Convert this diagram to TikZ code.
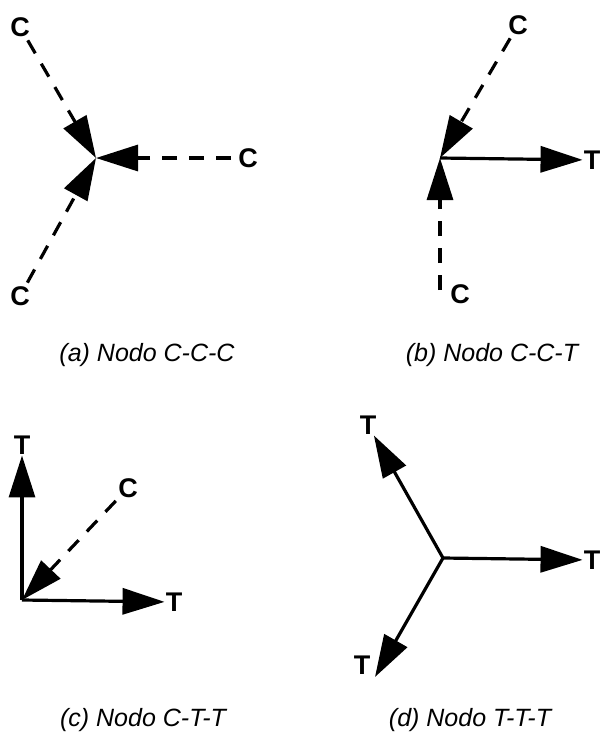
\documentclass[tikz,border=0pt]{standalone}
\usepackage{fontspec}
\setmainfont{Liberation Sans}
\usetikzlibrary{arrows.meta}
\begin{document}
\begin{tikzpicture}[x=1pt,y=-1pt,
  lbl/.style={font=\fontsize{27}{29}\selectfont\bfseries, inner sep=1pt},
  captxt/.style={font=\fontsize{25}{28}\selectfont\itshape, inner sep=0pt},
  bigtip/.style={-{Triangle[length=42pt 0 0,width=26pt 0 0]}},
  comp/.style={bigtip, line width=3.2pt, dash pattern=on 15pt off 12pt},
  tens/.style={bigtip, line width=3.2pt}]
\useasboundingbox (0,0) rectangle (600,740);
% (a)
\coordinate (ac) at (96,158);
\node[lbl] (a1) at (20,27) {C};
\node[lbl] (a2) at (248,158) {C};
\node[lbl] (a3) at (20,296) {C};
\draw[comp, shorten <=3pt] (a1) -- (ac);
\draw[comp, shorten <=6pt] (a2) -- (ac);
\draw[comp, shorten <=3pt] (a3) -- (ac);
\node[captxt] (acap) at (147,355) {(a) Nodo C-C-C};
% (b)
\coordinate (bc) at (440,158);
\node[lbl] (b1) at (518,25) {C};
\node[lbl] (b2) at (592,160) {T};
\coordinate (b3e) at (440,290);
\node[lbl] (b3) at (460,294) {C};
\draw[comp, shorten <=3pt] (b1) -- (bc);
\draw[tens] (bc) -- (b2);
\draw[comp] (b3e) -- (bc);
\node[captxt] (bcap) at (492,355) {(b) Nodo C-C-T};
% (c)
\coordinate (cc) at (22,600);
\node[lbl] (c1) at (22,445) {T};
\node[lbl] (c2) at (128,488) {C};
\node[lbl] (c3) at (174,602) {T};
\draw[tens] (cc) -- (c1);
\draw[comp, shorten <=3pt] (c2) -- (cc);
\draw[tens] (cc) -- (c3);
\node[captxt] (ccap) at (143,720) {(c) Nodo C-T-T};
% (d)
\coordinate (dc) at (443,558);
\node[lbl] (d1) at (368,425) {T};
\node[lbl] (d2) at (592,560) {T};
\node[lbl] (d3) at (362,665) {T};
\coordinate (d3e) at (375,677);
\draw[tens] (dc) -- (d1);
\draw[tens] (dc) -- (d2);
\draw[tens] (dc) -- (d3e);
\node[captxt] (dcap) at (470,720) {(d) Nodo T-T-T};
\end{tikzpicture}
\end{document}
